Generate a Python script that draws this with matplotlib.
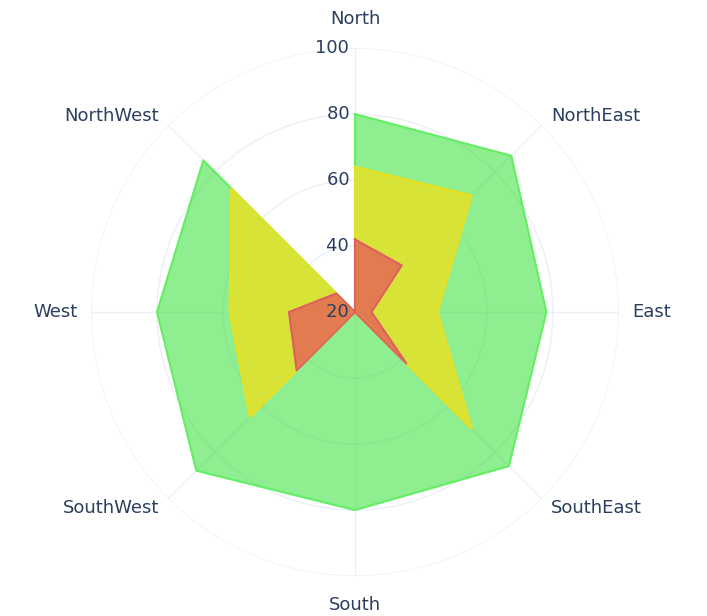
import numpy as np
import matplotlib
matplotlib.use("Agg")
import matplotlib.pyplot as plt

directions = ["North", "NorthEast", "East", "SouthEast", "South", "SouthWest", "West", "NorthWest"]
green = [80, 87, 78, 86, 80, 88, 80, 85]
yellow = [64, 70, 45, 70, 20, 65, 58, 73]
red = [42, 40, 25, 42, 20, 45, 40, 28]
center_r = 20  # each trace closes through the centre

fig = plt.figure(figsize=(7.07, 6.16), dpi=100)
ax = fig.add_axes([0.502 - 0.3734, 0.4935 - 0.4286, 0.747, 0.857], projection="polar")
ax.set_theta_zero_location("N")
ax.set_theta_direction(-1)
theta = np.deg2rad(np.arange(len(directions)) * 45)
tc = np.concatenate([theta, [2 * np.pi, 2 * np.pi]])

series = [(green, "#66ee66", (0.2, 0.88, 0.2, 0.55)),
          (yellow, "#e8e020", (0.95, 0.88, 0.1, 0.75)),
          (red, "#e06060", (0.9, 0.35, 0.35, 0.75))]
for vals, lc, fc in series:
    v = np.concatenate([vals, [center_r, vals[0]]])
    ax.fill(tc, v, color=fc, zorder=3)
    ax.plot(tc, v, color=lc, lw=1.5, zorder=4)

ax.set_rlim(20, 100)
ax.set_rticks([20, 40, 60, 80, 100])
ax.set_yticklabels([])
for r in [20, 40, 60, 80, 100]:
    ax.text(0, r, str(r) + " ", ha="right", va="center", fontsize=13,
            color="#2a3f5f", zorder=10)
ax.set_xticks(theta)
ax.set_xticklabels([])
for t, name in zip(theta, directions):
    s = np.sin(t)
    ha = "left" if s > 0.1 else ("right" if s < -0.1 else "center")
    c = np.cos(t)
    va = "bottom" if c > 0.9 else ("top" if c < -0.9 else "center")
    rr = 106 if abs(c) > 0.9 else 104
    ax.text(t, rr, name, ha=ha, va=va, fontsize=13, color="#2a3f5f", clip_on=False)
ax.grid(color="#ebf0f8", lw=1)
ax.spines["polar"].set_visible(False)
ax.set_facecolor("white")
fig.savefig("out.png", dpi=100)
